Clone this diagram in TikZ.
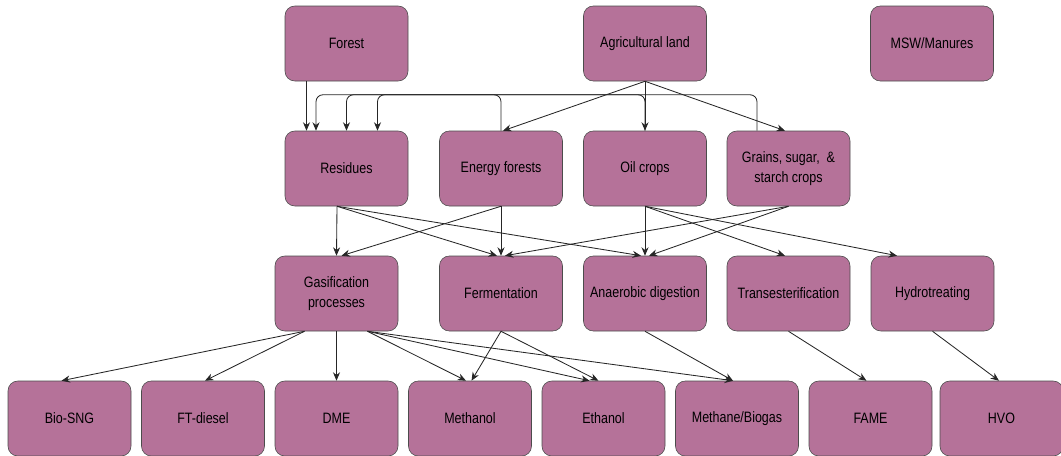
\documentclass[tikz,border=0pt]{standalone}
\usepackage{fontspec}
\newfontfamily\boxfont[FakeStretch=0.83]{Liberation Sans}
\usetikzlibrary{arrows.meta,calc,positioning}
\usepackage{xcolor}
\newcommand{\pxunit}{0.025cm}
\definecolor{mauve}{RGB}{181,114,153}
\colorlet{linegray}{black!85}
\tikzset{
    boxsty/.style={draw=black!70,fill=mauve,rounded corners=7pt,minimum width=123*\pxunit,minimum height=75*\pxunit,align=center,font=\boxfont\fontsize{10.7}{13.7}\selectfont,anchor=center},
    arrsty/.style={->,draw=linegray,line width=0.6pt},
    bussty/.style={arrsty,rounded corners=5pt},
}

\begin{document}
\begin{tikzpicture}[x=\pxunit,y=-\pxunit,>={Stealth[length=6pt,width=5pt]}]
\useasboundingbox (0,0) rectangle (1061,455);

% sources
\node[boxsty] (forest) at (346.5,43.5) {Forest};
\node[boxsty] (agri)   at (645,43.5)   {Agricultural land};
\node[boxsty] (msw)    at (932,43.5)   {MSW/Manures};

% feedstocks
\node[boxsty] (res)    at (346.5,168.5) {Residues};
\node[boxsty] (ef)     at (501,168.5)   {Energy forests};
\node[boxsty] (oil)    at (645,168.5)   {Oil crops};
\node[boxsty] (grains) at (788.5,168.5) {Grains, sugar,\ \ \&\\starch crops};

% processes
\node[boxsty] (gas)    at (336.5,293.5) {Gasification\\processes};
\node[boxsty] (ferm)   at (501,293.5)   {Fermentation};
\node[boxsty] (ad)     at (645,293.5)   {Anaerobic digestion};
\node[boxsty] (trans)  at (788.5,293.5) {Transesterification};
\node[boxsty] (hydro)  at (932.5,293.5) {Hydrotreating};

% products
\node[boxsty] (biosng)  at (69.5,418.5)  {Bio-SNG};
\node[boxsty] (ftd)     at (203,418.5)   {FT-diesel};
\node[boxsty] (dme)     at (336.5,418.5) {DME};
\node[boxsty] (meoh)    at (470,418.5)   {Methanol};
\node[boxsty] (etoh)    at (603.5,418.5) {Ethanol};
\node[boxsty] (methane) at (737,418.5)   {Methane/Biogas};
\node[boxsty] (fame)    at (870.5,418.5) {FAME};
\node[boxsty] (hvo)     at (1001.5,418.5) {HVO};

% top level
\draw[arrsty] ($(forest.south)+(-40,0)$) -- ($(res.north)+(-40,0)$);
\draw[arrsty] (agri.south) -- ($(ef.north)+(2,0)$);
\draw[arrsty] (agri.south) -- (oil.north);
\draw[arrsty] (agri.south) -- ($(grains.north)+(-3.5,0)$);
\draw[bussty] (ef.north) -- ++(0,-36) -| ($(res.north)+(31,0)$);
\draw[bussty] (oil.north) -- ++(0,-36) -| (res.north);
\draw[bussty] ($(grains.north)+(-31.5,0)$) -- ++(0,-36) -| ($(res.north)+(-30.5,0)$);

% feedstocks to processes
\draw[arrsty] ($(res.south)+(-9.5,0)$) -- (gas.north);
\draw[arrsty] ($(res.south)+(-9.5,0)$) -- ($(ferm.north)+(-4,0)$);
\draw[arrsty] ($(res.south)+(-9.5,0)$) -- ($(ad.north)+(-4,0)$);
\draw[arrsty] (ef.south) -- ($(gas.north)+(5,0)$);
\draw[arrsty] (ef.south) -- (ferm.north);
\draw[arrsty] (oil.south) -- (ad.north);
\draw[arrsty] (oil.south) -- ($(trans.north)+(-3.5,0)$);
\draw[arrsty] (oil.south) -- ($(hydro.north)+(-35.5,0)$);
\draw[arrsty] (grains.south) -- ($(ad.north)+(4,0)$);
\draw[arrsty] (grains.south) -- ($(ferm.north)+(4,0)$);

% processes to products
\draw[arrsty] ($(gas.south)+(-32,0)$) -- ($(biosng.north)+(-8,0)$);
\draw[arrsty] ($(gas.south)+(-32,0)$) -- ($(ftd.north)+(2,0)$);
\draw[arrsty] (gas.south) -- (dme.north);
\draw[arrsty] ($(gas.south)+(31,0)$) -- ($(meoh.north)+(-4,0)$);
\draw[arrsty] ($(gas.south)+(31,0)$) -- ($(etoh.north)+(-14,0)$);
\draw[arrsty] ($(gas.south)+(31,0)$) -- ($(methane.north)+(-4,0)$);
\draw[arrsty] (ferm.south) -- ($(meoh.north)+(1.5,0)$);
\draw[arrsty] (ferm.south) -- ($(etoh.north)+(-5,0)$);
\draw[arrsty] (ad.south) -- ($(methane.north)+(-4,0)$);
\draw[arrsty] (trans.south) -- ($(fame.north)+(-4,0)$);
\draw[arrsty] (hydro.south) -- ($(hvo.north)+(-2.5,0)$);
\end{tikzpicture}
\end{document}
